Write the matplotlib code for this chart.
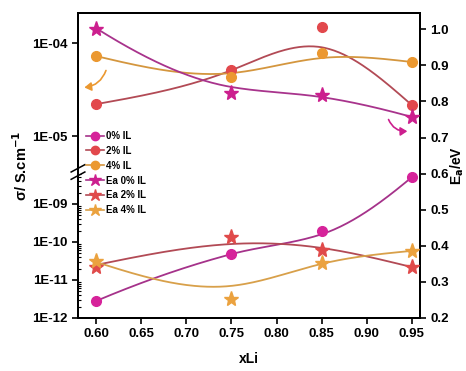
import numpy as np
import matplotlib
matplotlib.use("Agg")
import matplotlib.pyplot as plt
from matplotlib.lines import Line2D
from matplotlib.patches import FancyArrowPatch, Polygon

plt.rcParams['font.family'] = ['Liberation Sans', 'DejaVu Sans']
plt.rcParams['font.weight'] = 'bold'

# ---- data (points) ----
x_li = np.array([0.60, 0.75, 0.85, 0.95])
sigma_0 = np.array([2.8e-12, 4.8e-11, 1.9e-10, 5.1e-9])
sigma_2 = np.array([2.2e-5, 5.1e-5, 1.49e-4, 2.15e-5])
sigma_4 = np.array([7.2e-5, 4.3e-5, 7.8e-5, 6.25e-5])
ea_0 = np.array([1.00, 0.823, 0.818, 0.757])
ea_2 = np.array([0.341, 0.424, 0.388, 0.341])
ea_4 = np.array([0.358, 0.253, 0.352, 0.386])
# ---- smoothed guide-line values read at the same x (the drawn curves) ----
sigma_0_fit = np.array([2.8e-12, 4.8e-11, 1.6e-10, 5.1e-9])
sigma_2_fit = np.array([2.2e-5, 5.1e-5, 9.0e-5, 2.15e-5])
sigma_4_fit = np.array([7.24e-5, 4.75e-5, 6.9e-5, 6.25e-5])
ea_0_fit = np.array([1.003, 0.840, 0.812, 0.757])
ea_2_fit = np.array([0.347, 0.405, 0.394, 0.341])
ea_4_fit = np.array([0.355, 0.289, 0.350, 0.386])

labels = ["0% IL", "2% IL", "4% IL", "Ea 0% IL", "Ea 2% IL", "Ea 4% IL"]
x_ticks = [0.60, 0.65, 0.70, 0.75, 0.80, 0.85, 0.90, 0.95]
sig_ticks = [1e-12, 1e-11, 1e-10, 1e-9, 1e-5, 1e-4]
sig_ticklabels = ["1E-12", "1E-11", "1E-10", "1E-09", "1E-05", "1E-04"]
ea_ticks = [0.2, 0.3, 0.4, 0.5, 0.6, 0.7, 0.8, 0.9, 1.0]

# broken log axis: knots in log10 space -> display units
Lk = np.array([-12.0, -8.158, -5.387, -3.677])
Uk = np.array([0.0, 146.0, 146.0001, 305.0])


def fwd(y):
    y = np.asarray(y, dtype=float)
    L = np.log10(np.clip(y, 1e-30, None))
    return np.interp(L, Lk, Uk)


def inv(u):
    return 10 ** np.interp(np.asarray(u, dtype=float), Uk, Lk)


def spline(xs, ys, n=200):
    xs = np.asarray(xs, float)
    ys = np.asarray(ys, float)
    h = np.diff(xs)
    m = len(xs)
    A = np.zeros((m - 2, m - 2))
    r = np.zeros(m - 2)
    for i in range(m - 2):
        A[i, i] = 2 * (h[i] + h[i + 1])
        if i + 1 < m - 2:
            A[i, i + 1] = h[i + 1]
            A[i + 1, i] = h[i + 1]
        r[i] = 6 * ((ys[i + 2] - ys[i + 1]) / h[i + 1] - (ys[i + 1] - ys[i]) / h[i])
    M = np.zeros(m)
    M[1:-1] = np.linalg.solve(A, r)
    xx = np.linspace(xs[0], xs[-1], n)
    k = np.clip(np.searchsorted(xs, xx) - 1, 0, m - 2)
    x0, x1, hh = xs[k], xs[k + 1], h[k]
    yy = (M[k] * (x1 - xx) ** 3 / (6 * hh) + M[k + 1] * (xx - x0) ** 3 / (6 * hh)
          + (ys[k] / hh - M[k] * hh / 6) * (x1 - xx) + (ys[k + 1] / hh - M[k + 1] * hh / 6) * (xx - x0))
    return xx, yy


def pchip(xs, ys, n=200):
    xs = np.asarray(xs, float)
    ys = np.asarray(ys, float)
    h = np.diff(xs)
    dl = np.diff(ys) / h
    m = len(xs)
    d = np.zeros(m)
    for k in range(1, m - 1):
        if dl[k - 1] * dl[k] > 0:
            w1 = 2 * h[k] + h[k - 1]
            w2 = h[k] + 2 * h[k - 1]
            d[k] = (w1 + w2) / (w1 / dl[k - 1] + w2 / dl[k])
    for k0, a, b, ha, hb in [(0, dl[0], dl[1], h[0], h[1]), (m - 1, dl[-1], dl[-2], h[-1], h[-2])]:
        v = ((2 * ha + hb) * a - ha * b) / (ha + hb)
        if np.sign(v) != np.sign(a):
            v = 0.0
        elif np.sign(a) != np.sign(b) and abs(v) > abs(3 * a):
            v = 3 * a
        d[k0] = v
    xx = np.linspace(xs[0], xs[-1], n)
    k = np.clip(np.searchsorted(xs, xx) - 1, 0, m - 2)
    t = (xx - xs[k]) / h[k]
    h00 = 2 * t ** 3 - 3 * t ** 2 + 1
    h10 = t ** 3 - 2 * t ** 2 + t
    h01 = -2 * t ** 3 + 3 * t ** 2
    h11 = t ** 3 - t ** 2
    yy = h00 * ys[k] + h10 * h[k] * d[k] + h01 * ys[k + 1] + h11 * h[k] * d[k + 1]
    return xx, yy


c0m, c0l = '#d6239a', '#a5328a'
c2m, c2l = '#e2484c', '#b24a55'
c4m, c4l = '#eb9830', '#d4963e'
s0m, s2m, s4m = '#cc1f8e', '#e04a4a', '#eba23f'
e0l, e4l = '#a8338c', '#d8a04a'

fig = plt.figure(figsize=(4.66, 3.71), dpi=100)
ax = fig.add_axes([78 / 466, 53 / 371, 342 / 466, 305 / 371])
ax.set_yscale('function', functions=(fwd, inv))
ax.set_ylim(1e-12, 10 ** -3.677)
ax.set_xlim(0.58, 0.959)

# sigma curves (smoothed in log space)
for ys, cl, fn in [(sigma_0_fit, c0l, pchip), (sigma_2_fit, c2l, spline), (sigma_4_fit, c4l, spline)]:
    sx, sl = fn(x_li, np.log10(ys))
    ax.plot(sx, 10 ** sl, color=cl, lw=1.3, zorder=2)
for ys, cm in [(sigma_0, c0m), (sigma_2, c2m), (sigma_4, c4m)]:
    ax.plot(x_li, ys, 'o', ms=7, color=cm, mec=cm, zorder=3)

ax.set_yticks(sig_ticks)
ax.set_yticklabels(sig_ticklabels)
minor = [k * 10.0 ** e for e in range(-12, -8) for k in range(2, 10) if k * 10.0 ** e < 10 ** -8.2]
ax.set_yticks(minor, minor=True)
ax.set_xticks(x_ticks)
ax.set_xticklabels([f"{v:.2f}" for v in x_ticks])
ax.tick_params(axis='both', which='major', direction='out', length=4, width=1.2, labelsize=9.5)
ax.tick_params(axis='y', which='minor', direction='in', length=2, width=0.8)
ax.tick_params(axis='x', which='minor', length=0)
for s in ax.spines.values():
    s.set_linewidth(1.4)
ax.set_xlabel("xLi", fontsize=10, fontweight='bold', labelpad=8)
ax.set_ylabel("σ/ S.cm$^{\\mathbf{-1}}$", fontsize=10.5, fontweight='bold', labelpad=2)
ax.yaxis.set_label_coords(-0.14, 0.5)

# break marks on left spine
yb = 146.0 / 305.0
gap = 0.012
poly = Polygon([(-0.02, yb - gap - 0.012), (0.02, yb - gap + 0.012), (0.02, yb + gap + 0.012),
                (-0.02, yb + gap - 0.012)], closed=True, transform=ax.transAxes,
               facecolor='white', edgecolor='none', clip_on=False, zorder=5)
ax.add_patch(poly)
for d in (-gap, gap):
    ax.plot([-0.02, 0.02], [yb + d - 0.012, yb + d + 0.012], color='black', lw=1.1,
            transform=ax.transAxes, clip_on=False, zorder=6)

# Ea axis
ax2 = ax.twinx()
ax2.set_ylim(0.2, 1.045)
for ys, cl, fn in [(ea_0_fit, e0l, pchip), (ea_2_fit, c2l, spline), (ea_4_fit, e4l, spline)]:
    sx, sy = fn(x_li, ys)
    ax2.plot(sx, sy, color=cl, lw=1.3, zorder=2)
for ys, cm in [(ea_0, s0m), (ea_2, s2m), (ea_4, s4m)]:
    ax2.plot(x_li, ys, '*', ms=11, color=cm, mec=cm, zorder=3)
ax2.set_yticks(ea_ticks)
ax2.set_yticklabels([f"{v:.1f}" for v in ea_ticks])
ax2.tick_params(axis='y', direction='out', length=4, width=1.2, labelsize=9.5)
for s in ax2.spines.values():
    s.set_linewidth(1.4)
ax2.set_ylabel("E$_\\mathbf{a}$/eV", fontsize=10, fontweight='bold', labelpad=0)

# arrows
a1 = FancyArrowPatch((0.612, 0.893), (0.584, 0.838), connectionstyle="arc3,rad=-0.35",
                     arrowstyle='-|>,head_length=4,head_width=2.5', color=c4m, lw=1.2, zorder=4)
ax2.add_patch(a1)
a2 = FancyArrowPatch((0.923, 0.757), (0.948, 0.718), connectionstyle="arc3,rad=0.4",
                     arrowstyle='-|>,head_length=4,head_width=2.5', color=s0m, lw=1.2, zorder=4)
ax2.add_patch(a2)

# legend
handles = [
    Line2D([], [], color=c0l, marker='o', ms=6, mfc=c0m, mec=c0m, lw=1.2),
    Line2D([], [], color=c2l, marker='o', ms=6, mfc=c2m, mec=c2m, lw=1.2),
    Line2D([], [], color=c4l, marker='o', ms=6, mfc=c4m, mec=c4m, lw=1.2),
    Line2D([], [], color=e0l, marker='*', ms=9, mfc=s0m, mec=s0m, lw=1.2),
    Line2D([], [], color=c2l, marker='*', ms=9, mfc=s2m, mec=s2m, lw=1.2),
    Line2D([], [], color=e4l, marker='*', ms=9, mfc=s4m, mec=s4m, lw=1.2),
]
leg = ax2.legend(handles, labels, loc='upper left', bbox_to_anchor=(86 / 466, 1 - 131 / 371),
                 bbox_transform=fig.transFigure, frameon=False, fontsize=7, handlelength=1.8,
                 handletextpad=0.3, labelspacing=0.5, borderpad=0, borderaxespad=0)
for t in leg.get_texts():
    t.set_fontweight('bold')

fig.savefig("out.png", dpi=100)
